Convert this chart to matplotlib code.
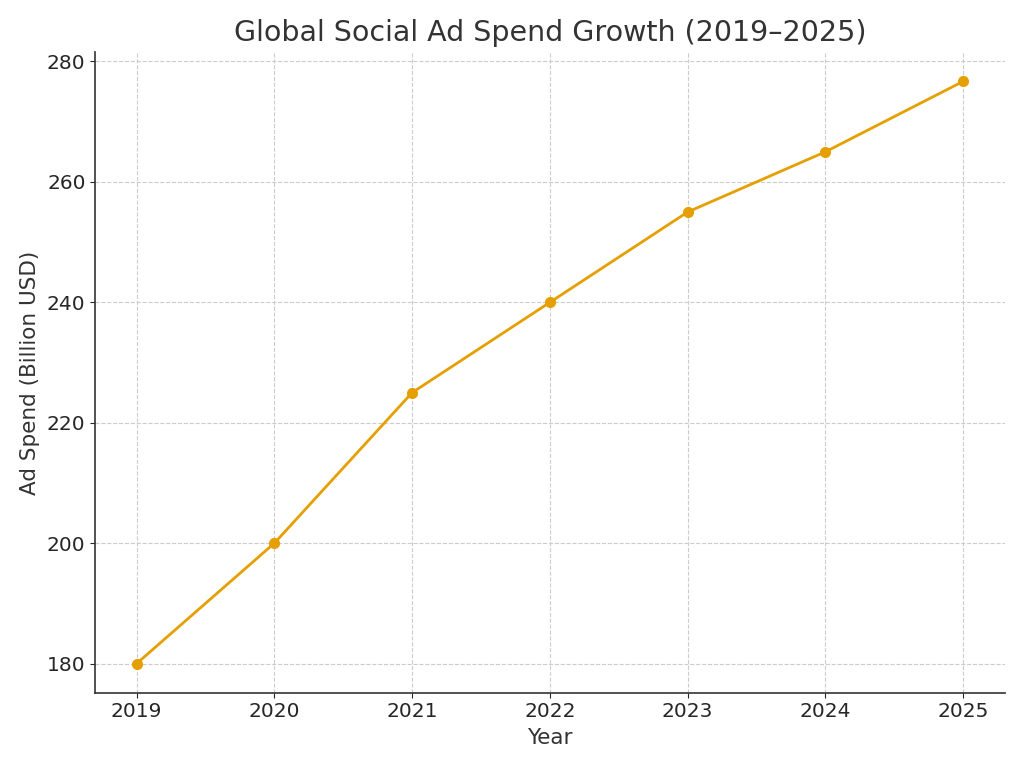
import matplotlib
matplotlib.use("Agg")
import matplotlib.pyplot as plt

# --- data ---
years = [2019, 2020, 2021, 2022, 2023, 2024, 2025]
ad_spend = [180, 200, 225, 240, 255, 265, 276.7]

plt.rcParams['font.family'] = 'DejaVu Sans'
plt.rcParams['text.color'] = '#333333'
plt.rcParams['axes.labelcolor'] = '#333333'
plt.rcParams['xtick.color'] = '#262626'
plt.rcParams['ytick.color'] = '#262626'

fig, ax = plt.subplots(figsize=(10.24, 7.68), dpi=100)

ax.plot(years, ad_spend, color='#E69F00', linewidth=2, marker='o', markersize=7)

ax.set_title('Global Social Ad Spend Growth (2019\u20132025)', fontsize=20.5, pad=8)
ax.set_xlabel('Year', fontsize=15.5, labelpad=5)
ax.set_ylabel('Ad Spend (Billion USD)', fontsize=15.5, labelpad=5)
ax.set_xticks(years)
ax.tick_params(labelsize=14.5)

ax.grid(True, linestyle='--', color='#cccccc', linewidth=0.8)
ax.spines['top'].set_visible(False)
ax.spines['right'].set_visible(False)
for s in ('left', 'bottom'):
    ax.spines[s].set_color('#333333')
    ax.spines[s].set_linewidth(1.2)

fig.subplots_adjust(left=0.093, right=0.981, bottom=0.098, top=0.932)
fig.savefig('out.png', dpi=100)
